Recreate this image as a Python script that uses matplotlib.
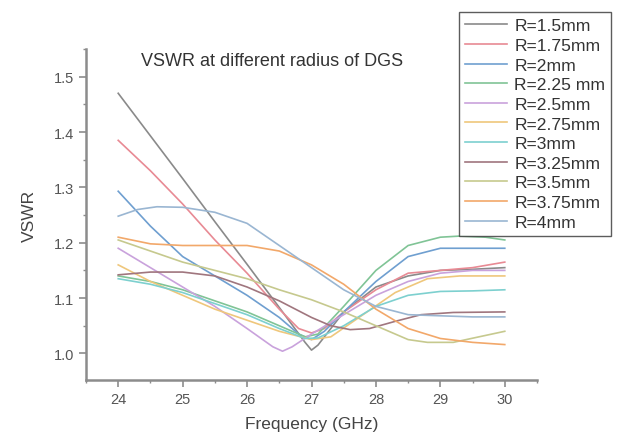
import matplotlib
matplotlib.use("Agg")
import matplotlib.pyplot as plt
from matplotlib.ticker import MultipleLocator

plt.rcParams['font.family'] = ['Liberation Sans', 'DejaVu Sans']

# ---------- Daten ----------
labels = ["R=1.5mm", "R=1.75mm", "R=2mm", "R=2.25 mm", "R=2.5mm", "R=2.75mm",
          "R=3mm", "R=3.25mm", "R=3.5mm", "R=3.75mm", "R=4mm"]

f_r150 = [24, 24.5, 25, 25.5, 26, 26.5, 26.9, 27.0, 27.1, 27.5, 28, 28.5, 29, 29.5, 30]
v_r150 = [1.47, 1.393, 1.316, 1.238, 1.161, 1.083, 1.02, 1.006, 1.015, 1.075, 1.12, 1.14, 1.15, 1.152, 1.155]

f_r175 = [24, 24.5, 25, 25.5, 26, 26.5, 26.8, 27, 27.2, 27.5, 28, 28.5, 29, 29.5, 30]
v_r175 = [1.385, 1.33, 1.27, 1.205, 1.145, 1.08, 1.045, 1.037, 1.045, 1.075, 1.115, 1.145, 1.15, 1.155, 1.165]

f_r200 = [24, 24.5, 25, 25.5, 26, 26.5, 26.8, 27.0, 27.2, 27.5, 28, 28.5, 29, 29.5, 30]
v_r200 = [1.293, 1.23, 1.175, 1.14, 1.105, 1.065, 1.035, 1.025, 1.04, 1.075, 1.13, 1.175, 1.19, 1.19, 1.19]

f_r225 = [24, 24.5, 25, 25.5, 26, 26.5, 26.9, 27.1, 27.5, 28, 28.5, 29, 29.3, 29.7, 30]
v_r225 = [1.14, 1.13, 1.115, 1.095, 1.075, 1.05, 1.03, 1.035, 1.085, 1.15, 1.195, 1.21, 1.212, 1.21, 1.205]

f_r250 = [24, 24.5, 25, 25.5, 26, 26.4, 26.55, 26.7, 27, 27.5, 28, 28.5, 29, 29.5, 30]
v_r250 = [1.19, 1.155, 1.12, 1.085, 1.045, 1.012, 1.004, 1.012, 1.035, 1.07, 1.105, 1.13, 1.145, 1.15, 1.15]

f_r275 = [24, 24.5, 25, 25.5, 26, 26.5, 27, 27.3, 27.8, 28.3, 28.8, 29.3, 30]
v_r275 = [1.16, 1.13, 1.105, 1.08, 1.06, 1.04, 1.025, 1.03, 1.07, 1.11, 1.135, 1.14, 1.14]

f_r300 = [24, 24.5, 25, 25.5, 26, 26.5, 26.9, 27.1, 27.5, 28, 28.5, 29, 29.5, 30]
v_r300 = [1.135, 1.125, 1.11, 1.09, 1.07, 1.045, 1.027, 1.028, 1.05, 1.085, 1.105, 1.112, 1.113, 1.115]

f_r325 = [24, 24.5, 25, 25.5, 26, 26.5, 27, 27.3, 27.6, 27.9, 28.3, 28.7, 29.2, 30]
v_r325 = [1.142, 1.147, 1.147, 1.14, 1.12, 1.095, 1.065, 1.05, 1.043, 1.045, 1.058, 1.07, 1.074, 1.075]

f_r350 = [24, 24.5, 25, 25.5, 26, 26.5, 27, 27.5, 28, 28.5, 28.8, 29.2, 29.6, 30]
v_r350 = [1.205, 1.185, 1.165, 1.15, 1.135, 1.115, 1.097, 1.075, 1.05, 1.025, 1.02, 1.02, 1.03, 1.04]

f_r375 = [24, 24.5, 25, 25.5, 26, 26.5, 27, 27.5, 28, 28.5, 29, 29.5, 30]
v_r375 = [1.21, 1.198, 1.195, 1.195, 1.195, 1.185, 1.16, 1.125, 1.08, 1.045, 1.027, 1.02, 1.016]

f_r400 = [24, 24.3, 24.6, 25, 25.5, 26, 26.5, 27, 27.5, 28, 28.5, 29, 29.5, 30]
v_r400 = [1.248, 1.26, 1.265, 1.264, 1.255, 1.235, 1.195, 1.155, 1.115, 1.085, 1.07, 1.068, 1.066, 1.066]

freqs = [f_r150, f_r175, f_r200, f_r225, f_r250, f_r275, f_r300, f_r325, f_r350, f_r375, f_r400]
vswrs = [v_r150, v_r175, v_r200, v_r225, v_r250, v_r275, v_r300, v_r325, v_r350, v_r375, v_r400]

colors = ["#8a8a8a", "#e88a94", "#6f9fd0", "#80c496", "#c9a2dc", "#efc77c",
          "#7dd0cf", "#a0767e", "#c6c98e", "#f2a86a", "#9ab6d2"]

# ---------- Plot ----------
fig = plt.figure(figsize=(6.17, 4.35), dpi=100)
ax = fig.add_axes([86/617, 1 - 381/435, (537-86)/617, (381-50)/435])

for f, v, c, lab in zip(freqs, vswrs, colors, labels):
    ax.plot(f, v, color=c, lw=1.2, label=lab)

ax.set_xlim(23.5, 30.5)
ax.set_ylim(0.952, 1.55)
ax.xaxis.set_major_locator(MultipleLocator(1))
ax.xaxis.set_minor_locator(MultipleLocator(0.5))
ax.yaxis.set_major_locator(MultipleLocator(0.1))
ax.yaxis.set_minor_locator(MultipleLocator(0.05))
ax.yaxis.set_major_formatter(plt.FormatStrFormatter("%.1f"))

for s in ["top", "right"]:
    ax.spines[s].set_visible(False)
for s in ["left", "bottom"]:
    ax.spines[s].set_color("#8c8c8c")
    ax.spines[s].set_linewidth(1.8)
ax.tick_params(which="major", direction="out", length=5, width=1.2,
               color="#8c8c8c", labelsize=10.5, labelcolor="#555555")
ax.tick_params(which="minor", direction="out", length=2.5, width=1.0, color="#8c8c8c")

ax.set_xlabel("Frequency (GHz)", fontsize=12.5, color="#444444", labelpad=7)
ax.set_ylabel("VSWR", fontsize=12.5, color="#444444", labelpad=12)

fig.text(272/617, 1 - 62/435, "VSWR at different radius of DGS",
         ha="center", va="center", fontsize=13, color="#333333")

leg = fig.legend(loc="upper left", bbox_to_anchor=(459/617, 1 - 13/435),
                 fontsize=12.6, frameon=True, fancybox=False, handlelength=2.4,
                 handletextpad=0.4, labelspacing=0.25, borderpad=0.35,
                 borderaxespad=0)
leg.get_frame().set_edgecolor("#333333")
leg.get_frame().set_linewidth(1.0)
for t in leg.get_texts():
    t.set_color("#333333")

fig.savefig("out.png", dpi=100)
